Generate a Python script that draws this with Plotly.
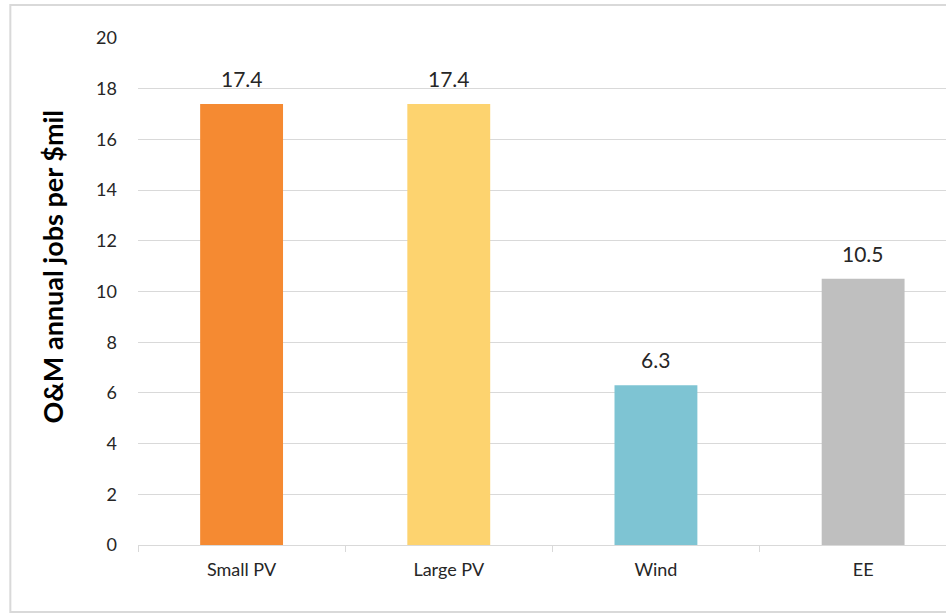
import plotly.graph_objects as go

# O&M annual jobs per $ million, by technology
categories = ["Small PV", "Large PV", "Wind", "EE"]
jobs_per_mil = [17.4, 17.4, 6.3, 10.5]
bar_colors = ["#F58A32", "#FDD36F", "#7EC4D3", "#BFBFBF"]
y_ticks = [0, 2, 4, 6, 8, 10, 12, 14, 16, 18, 20]

FONT = "Lato, 'Open Sans', sans-serif"
TEXT = "#262626"

fig = go.Figure(
    go.Bar(
        x=categories,
        y=jobs_per_mil,
        marker=dict(color=bar_colors, line=dict(width=0)),
        width=0.4,
        hoverinfo="x+y",
    )
)

# value labels above each bar
for cat, val in zip(categories, jobs_per_mil):
    fig.add_annotation(
        x=cat, y=val, text=f"{val:.1f}", showarrow=False,
        yanchor="bottom", yshift=11,
        font=dict(family=FONT, size=21, color=TEXT),
    )

# y-axis title
fig.add_annotation(
    xref="paper", yref="paper", x=-0.106, y=0.55,
    text="<b>O&M annual jobs per $mil</b>", textangle=-90, showarrow=False,
    xanchor="center", yanchor="middle",
    font=dict(family=FONT, size=27, color="#000000"),
)

# chart frame
fig.add_shape(
    type="rect", xref="paper", yref="paper",
    x0=-0.158, x1=1.2, y0=-0.132, y1=1.065,
    line=dict(color="#D9D9D9", width=2), fillcolor="rgba(0,0,0,0)", layer="below",
)

fig.update_layout(
    width=946, height=616,
    margin=dict(l=138, r=0, t=38, b=71),
    paper_bgcolor="white", plot_bgcolor="white",
    showlegend=False,
    font=dict(family=FONT, color=TEXT),
    xaxis=dict(
        type="category",
        range=[-0.5, 3.4],
        showgrid=False,
        showline=True, linecolor="#D9D9D9", linewidth=1,
        ticks="outside", tickson="boundaries", ticklen=6, tickcolor="#D9D9D9",
        ticklabelstandoff=8,
        tickfont=dict(family=FONT, size=18, color=TEXT),
        fixedrange=True,
    ),
    yaxis=dict(
        range=[0, 20],
        tickvals=y_ticks,
        showgrid=True, gridcolor="#D9D9D9", gridwidth=1,
        zeroline=False, showline=False,
        ticks="", ticklabelstandoff=20,
        tickfont=dict(family=FONT, size=18, color=TEXT),
        fixedrange=True,
    ),
)

fig.write_html("out.html")
